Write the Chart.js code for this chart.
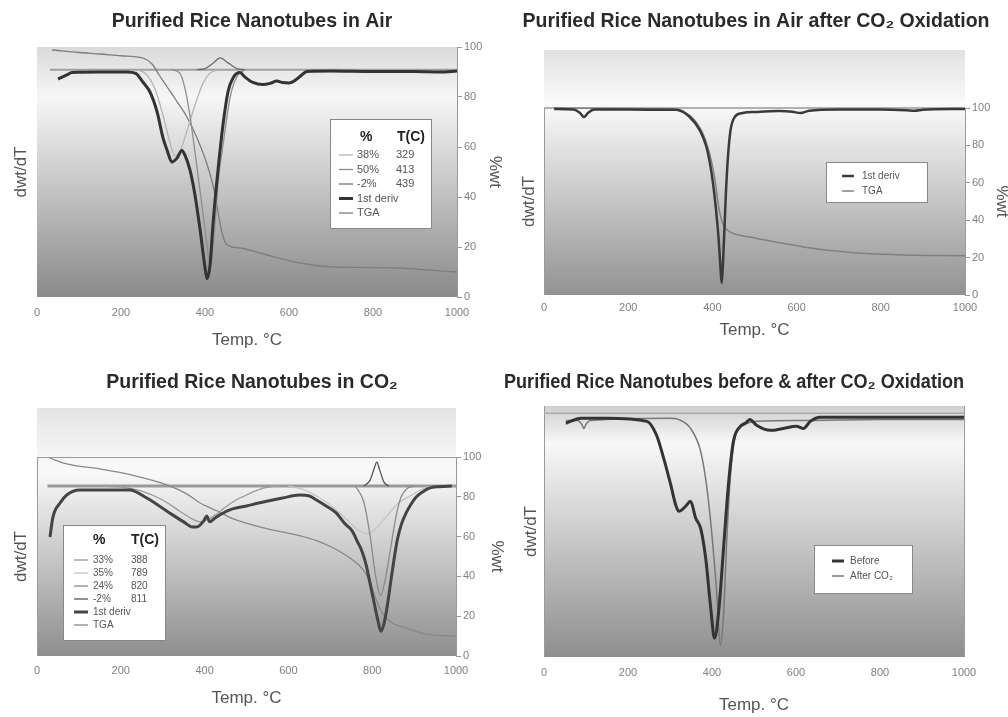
<!DOCTYPE html>
<html>
<head>
<meta charset="utf-8">
<script src="https://cdn.jsdelivr.net/npm/chart.js@4.4.0/dist/chart.umd.min.js"></script>
<style>
  body { margin: 0; background: #fff; width: 1008px; height: 717px; overflow: hidden; position: relative; }
  canvas { position: absolute; }
  #c1 { left: 0; top: 0; }
  #c2 { left: 504px; top: 0; }
  #c3 { left: 0; top: 358px; }
  #c4 { left: 504px; top: 358px; }
</style>
</head>
<body>
<canvas id="c1" width="504" height="358"></canvas>
<canvas id="c2" width="504" height="358"></canvas>
<canvas id="c3" width="504" height="359"></canvas>
<canvas id="c4" width="504" height="359"></canvas>
<script>
// ---- data (temperature in °C) ----

// panel 1: purified rice nanotubes in air
const airDerivT = [50, 71, 83, 150, 214, 235, 252, 269, 286, 300, 310, 321, 333, 345, 352, 364, 376, 388, 400, 405, 412, 419, 431, 443, 455, 467, 483, 495, 514, 538, 555, 571, 585, 600, 612, 626, 643, 700, 800, 900, 960, 1000];
const airDerivV = [-4.1, -2.3, -1.2, -1, -1, -1.6, -5.4, -9.8, -18.6, -30, -35.5, -40.6, -39, -35.5, -37.5, -44, -55, -70, -87, -92, -86, -68, -44, -24, -9.5, -3.5, -1.2, -3.2, -5.6, -6.5, -6, -5, -5.6, -5.8, -5, -3, -0.8, -0.6, -0.8, -0.8, -1, -0.6];
const airTgaT = [36, 100, 150, 200, 252, 275, 290, 310, 330, 357, 380, 405, 420, 430, 440, 452, 483, 548, 626, 705, 800, 864, 930, 1000];
const airTgaV = [98.8, 97.8, 97.2, 96.5, 95.6, 93, 89, 84, 79, 72, 64, 53, 44, 35, 26, 21, 19.6, 16.8, 13.6, 12, 11.8, 11.6, 10.8, 10];
const airFit1T = [240, 260, 280, 300, 315, 329, 340, 352, 365, 381, 395, 412, 430];
const airFit1V = [0, -2, -8, -20, -31, -38, -36, -30, -22, -13, -6, -1.5, 0];
const airFit2T = [320, 340, 352, 364, 376, 388, 400, 413, 422, 431, 443, 460, 476, 495];
const airFit2V = [0, -1.5, -8, -20, -36, -53, -70, -86, -72, -50, -33, -12, -3, 0];
const airFit3T = [380, 400, 420, 436, 455, 476, 495];
const airFit3V = [0, 0.5, 3, 5.2, 3, 0.5, 0];
const airBaseT = [31, 1000];
const airFitPct = ['38%', '50%', '-2%'];
const airFitTemp = ['329', '413', '439'];

// panel 2: in air after CO2 oxidation
const oxDerivT = [24, 70, 85, 95, 105, 120, 200, 300, 315, 346, 370, 386, 398, 408, 415, 419, 422, 424, 428, 432, 437, 443, 453, 472, 505, 559, 590, 609, 630, 700, 800, 860, 880, 900, 1000];
const oxDerivV = [-0.5, -0.8, -2.5, -4.8, -2.5, -0.8, -0.8, -1, -1, -4.8, -11.8, -21, -34.8, -53, -70.6, -85, -93.6, -88, -68, -46, -26, -12, -4.8, -2.7, -2.1, -1.6, -2, -2.7, -1.5, -0.8, -0.8, -1.2, -1.5, -1, -0.5];
const oxTgaT = [24, 100, 250, 300, 322, 353, 377, 393, 405, 415, 424, 434, 448, 488, 559, 616, 694, 775, 853, 1000];
const oxTgaV = [100, 99.8, 99.6, 99.5, 98.4, 94.7, 86.6, 76, 63, 47, 38.5, 35, 33, 31, 28, 25.7, 23.5, 22, 21.4, 21];
const oxBaseT = [0, 1000];

// panel 3: in CO2
const co2DerivT = [31, 38, 55, 71, 102, 221, 262, 317, 350, 371, 381, 398, 405, 412, 425, 460, 500, 540, 586, 626, 650, 667, 690, 714, 735, 752, 765, 776, 786, 793, 805, 813, 821, 827, 833, 839, 845, 852, 860, 870, 881, 893, 905, 920, 936, 960, 990];
const co2DerivV = [-25.6, -15.6, -8.5, -4.5, -2, -2, -6, -13.6, -18, -20.6, -20.6, -17.5, -15, -18, -16, -12, -10, -8, -6, -4.5, -5, -7, -10, -13.5, -19, -22.5, -28, -33, -40, -47, -59, -67, -73, -70, -64, -56, -47, -37, -27, -19, -13.5, -9, -5.5, -3, -1, -0.3, 0];
const co2TgaT = [30, 71, 150, 229, 310, 357, 388, 429, 467, 548, 626, 667, 705, 745, 776, 793, 810, 824, 845, 881, 912, 950, 1000];
const co2TgaV = [99.5, 96.5, 94, 90.8, 86, 81.5, 77, 73, 69, 64, 60.5, 58, 54.5, 49.5, 44, 38, 28, 21.5, 17, 14, 11.8, 10.5, 10];
const co2Fit1T = [150, 200, 250, 300, 340, 370, 388, 405, 429, 450, 475, 500, 520, 540, 571];
const co2Fit1V = [0, -0.5, -2.5, -7, -12.5, -16.5, -18, -17, -14, -10.5, -7, -4.5, -2.5, -1, 0];
const co2Fit2T = [600, 640, 667, 690, 714, 735, 752, 770, 789, 810, 833, 860, 895, 920, 943];
const co2Fit2V = [0, -2, -5, -8, -12, -16, -19.5, -22.5, -24, -21, -15.5, -9, -4.5, -1.5, 0];
const co2Fit3T = [760, 780, 795, 808, 820, 832, 845, 858, 870, 885, 900];
const co2Fit3V = [0, -8, -25, -45, -55, -46, -30, -14, -5, -1, 0];
const co2Fit4T = [780, 795, 805, 811, 818, 828, 840];
const co2Fit4V = [0, 3, 9, 12, 8, 2, 0];
const co2BaseT = [25, 1000];
const co2FitPct = ['33%', '35%', '24%', '-2%'];
const co2FitTemp = ['388', '789', '820', '811'];

// panel 4: before & after CO2 oxidation
const beforeT = [52, 88, 150, 245, 268, 285, 302, 314, 321, 337, 349, 361, 373, 385, 397, 406, 416, 428, 439, 451, 468, 480, 490, 506, 539, 570, 601, 618, 634, 658, 800, 1000];
const beforeV = [-4.1, -2, -2, -3.3, -9, -18.5, -29.5, -37.8, -40.2, -38.2, -36.1, -43, -47.2, -59.5, -80, -92.3, -81.2, -54.2, -29.5, -11.5, -5.3, -4, -2.5, -4.9, -7, -6.2, -5.3, -6.2, -3.3, -1.6, -1.6, -1.6];
const afterT = [52, 80, 90, 95, 100, 110, 300, 320, 349, 373, 387, 399, 411, 420, 428, 435, 444, 456, 475, 506, 618, 800, 1000];
const afterV = [-2.9, -2.9, -4.5, -6.2, -4.5, -2.9, -2, -2.5, -6.2, -15.6, -29.5, -48.4, -73, -95.2, -81, -52.5, -25.4, -9, -4.9, -3.3, -2.9, -2.5, -2.5];
const beforeAfterBaseT = [0, 1000];

const FONT = "'Liberation Sans', Arial, sans-serif";
Chart.defaults.font.family = FONT;

function pts(T, V) {
    return T.map((t, i) => ({ x: t, y: V ? V[i] : 0 }));
}

function line(T, V, style, axis) {
    return {
        data: pts(T, V),
        borderColor: style.color,
        borderWidth: style.width,
        pointRadius: 0,
        cubicInterpolationMode: 'monotone',
        fill: false,
        clip: 6,
        yAxisID: axis
    };
}

// gradient plot background + frame edges
const panelBg = {
    id: 'panelBg',
    beforeDraw(chart, args, o) {
        if (!o.stops) return;
        const { ctx, chartArea: a } = chart;
        const top = a.top - (o.ext || 0);
        const g = ctx.createLinearGradient(0, top, 0, a.bottom);
        o.stops.forEach(s => g.addColorStop(s[0], s[1]));
        ctx.save();
        ctx.fillStyle = g;
        ctx.fillRect(a.left, top, a.right - a.left, a.bottom - top);
        ctx.strokeStyle = '#9a9a9a';
        ctx.lineWidth = 1;
        (o.edges || []).forEach(e => {
            ctx.beginPath();
            if (e === 'left') { ctx.moveTo(a.left + 0.5, a.top); ctx.lineTo(a.left + 0.5, a.bottom); }
            if (e === 'right') { ctx.moveTo(a.right + 0.5, a.top); ctx.lineTo(a.right + 0.5, a.bottom); }
            if (e === 'top') { ctx.moveTo(a.left, a.top + 0.5); ctx.lineTo(a.right, a.top + 0.5); }
            ctx.stroke();
        });
        ctx.restore();
    }
};

// boxed legend with a % / T(C) table
const tableLegend = {
    id: 'tableLegend',
    afterDatasetsDraw(chart, args, o) {
        if (!o.rows) return;
        const ctx = chart.ctx;
        ctx.save();
        ctx.fillStyle = '#fff';
        ctx.fillRect(o.x, o.y, o.w, o.h);
        ctx.strokeStyle = '#888';
        ctx.lineWidth = 1;
        ctx.strokeRect(o.x + 0.5, o.y + 0.5, o.w, o.h);
        ctx.textBaseline = 'middle';
        if (o.header) {
            ctx.font = 'bold 14px ' + FONT;
            ctx.fillStyle = '#222';
            o.header.forEach(h => ctx.fillText(h[0], h[1], o.headerY));
        }
        ctx.font = o.size + 'px ' + FONT;
        o.rows.forEach((r, i) => {
            const y = o.rowY + i * o.gap;
            ctx.strokeStyle = r.style.color;
            ctx.lineWidth = r.style.width;
            ctx.beginPath();
            ctx.moveTo(o.lineX[0], y);
            ctx.lineTo(o.lineX[1], y);
            ctx.stroke();
            ctx.fillStyle = '#555';
            ctx.fillText(r.label, o.textX, y);
            if (r.temp) ctx.fillText(r.temp, o.tempX, y);
        });
        ctx.restore();
    }
};

Chart.register(panelBg, tableLegend);

function xAxis(h, pad, titlePad) {
    return {
        type: 'linear', min: 0, max: 1000,
        ticks: { stepSize: 200, padding: pad, color: '#808080', font: { size: 11 }, callback: v => String(v) },
        grid: { display: false, drawTicks: false },
        border: { display: false },
        title: { display: true, text: 'Temp. °C', color: '#555', font: { size: 17 }, padding: { top: 0, bottom: titlePad } },
        afterFit: s => { s.height = h; }
    };
}

function derivAxis(min, max, w, tp) {
    return {
        position: 'left', min: min, max: max,
        ticks: { display: false },
        grid: { display: false },
        border: { display: false },
        title: { display: true, text: 'dwt/dT', color: '#555', font: { size: 17 }, padding: { top: tp, bottom: 0 } },
        afterFit: s => { s.width = w; }
    };
}

function wtAxis(w, tp) {
    return {
        position: 'right', min: 0, max: 100,
        ticks: { stepSize: 20, padding: 2, color: '#808080', font: { size: 11 } },
        grid: { drawOnChartArea: false, tickLength: 5, color: '#999' },
        border: { display: false },
        title: { display: true, text: '%wt', color: '#555', font: { size: 17 }, padding: { top: tp, bottom: 0 } },
        afterFit: s => { s.width = w; }
    };
}

function titleOpts(text, top, bottom) {
    return { display: true, text: text, color: '#2a2a2a', font: { size: 19.5, weight: 'bold' }, padding: { top: top, bottom: bottom } };
}

function makeChart(id, datasets, scales, plugins, layoutPad) {
    return new Chart(document.getElementById(id), {
        type: 'line',
        data: { datasets: datasets },
        options: {
            responsive: false,
            animation: false,
            layout: { padding: layoutPad || 0 },
            scales: scales,
            plugins: Object.assign({ legend: { display: false }, tooltip: { enabled: false } }, plugins)
        }
    });
}

// ---- panel 1 ----
const s1 = {
    deriv: { color: '#333', width: 3 },
    tga: { color: '#7e7e7e', width: 1.3 },
    fit1: { color: '#b4b4b4', width: 1.3 },
    fit2: { color: '#8e8e8e', width: 1.3 },
    fit3: { color: '#6c6c6c', width: 1.3 },
    base: { color: '#a0a0a0', width: 2 }
};
makeChart('c1', [
    line(airDerivT, airDerivV, s1.deriv, 'y'),
    line(airFit3T, airFit3V, s1.fit3, 'y'),
    line(airFit2T, airFit2V, s1.fit2, 'y'),
    line(airFit1T, airFit1V, s1.fit1, 'y'),
    line(airTgaT, airTgaV, s1.tga, 'y1'),
    line(airBaseT, null, s1.base, 'y')
], {
    x: xAxis(61, 9.4, 7.8),
    y: derivAxis(-100, 10, 37, 10.8),
    y1: wtAxis(47, -1.2)
}, {
    title: titleOpts('Purified Rice Nanotubes in Air', 10.3, 13.3),
    panelBg: { stops: [[0, '#dadada'], [0.2, '#f6f6f6'], [1, '#8a8a8a']], edges: ['right'] },
    tableLegend: {
        x: 330, y: 119, w: 101, h: 109, headerY: 137,
        header: [['%', 360], ['T(C)', 397]],
        rowY: 155, gap: 14.5, lineX: [339, 353], textX: 357, tempX: 396, size: 11,
        rows: [
            { style: s1.fit1, label: airFitPct[0], temp: airFitTemp[0] },
            { style: s1.fit2, label: airFitPct[1], temp: airFitTemp[1] },
            { style: s1.fit3, label: airFitPct[2], temp: airFitTemp[2] },
            { style: s1.deriv, label: '1st deriv' },
            { style: s1.tga, label: 'TGA' }
        ]
    }
});

// ---- panel 2 ----
const s2 = {
    deriv: { color: '#3a3a3a', width: 2.5 },
    tga: { color: '#808080', width: 1.5 },
    base: { color: '#9a9a9a', width: 1.5 }
};
makeChart('c2', [
    line(oxDerivT, oxDerivV, s2.deriv, 'y'),
    line(oxTgaT, oxTgaV, s2.tga, 'y1'),
    line(oxBaseT, null, s2.base, 'y')
], {
    x: xAxis(63, 6.4, 17.8),
    y: derivAxis(-100, 0, 40, 14.8),
    y1: wtAxis(43, -4.2)
}, {
    title: titleOpts('Purified Rice Nanotubes in Air after CO₂ Oxidation', 10.3, 74.3),
    panelBg: { ext: 58, stops: [[0, '#e2e2e2'], [0.22, '#fafafa'], [1, '#929292']], edges: ['left', 'right'] },
    tableLegend: {
        x: 322, y: 162, w: 101, h: 40,
        rowY: 176, gap: 15, lineX: [338, 350], textX: 358, size: 10,
        rows: [
            { style: s2.deriv, label: '1st deriv' },
            { style: s2.tga, label: 'TGA' }
        ]
    }
});

// ---- panel 3 ----
const s3 = {
    deriv: { color: '#444', width: 3 },
    tga: { color: '#888', width: 1.3 },
    fit1: { color: '#9a9a9a', width: 1.3 },
    fit2: { color: '#c4c4c4', width: 1.3 },
    fit3: { color: '#8a8a8a', width: 1.3 },
    fit4: { color: '#555', width: 1.3 },
    base: { color: '#9a9a9a', width: 3 }
};
makeChart('c3', [
    line(co2DerivT, co2DerivV, s3.deriv, 'y'),
    line(co2Fit4T, co2Fit4V, s3.fit4, 'y'),
    line(co2Fit3T, co2Fit3V, s3.fit3, 'y'),
    line(co2Fit2T, co2Fit2V, s3.fit2, 'y'),
    line(co2Fit1T, co2Fit1V, s3.fit1, 'y'),
    line(co2TgaT, co2TgaV, s3.tga, 'y1'),
    line(co2BaseT, null, s3.base, 'y')
], {
    x: xAxis(61, 8.4, 8.8),
    y: derivAxis(-85.4, 14.6, 37, 10.8),
    y1: wtAxis(48, -3.2)
}, {
    title: titleOpts('Purified Rice Nanotubes in CO₂', 13.3, 62.3),
    panelBg: { ext: 49, stops: [[0, '#e4e4e4'], [0.25, '#fafafa'], [1, '#8e8e8e']], edges: ['left', 'right', 'top'] },
    tableLegend: {
        x: 63, y: 167, w: 102, h: 115, headerY: 182,
        header: [['%', 93], ['T(C)', 131]],
        rowY: 202, gap: 13, lineX: [74, 88], textX: 93, tempX: 131, size: 10,
        rows: [
            { style: s3.fit1, label: co2FitPct[0], temp: co2FitTemp[0] },
            { style: s3.fit2, label: co2FitPct[1], temp: co2FitTemp[1] },
            { style: s3.fit3, label: co2FitPct[2], temp: co2FitTemp[2] },
            { style: s3.fit4, label: co2FitPct[3], temp: co2FitTemp[3] },
            { style: s3.deriv, label: '1st deriv' },
            { style: s3.tga, label: 'TGA' }
        ]
    }
});

// ---- panel 4 ----
const s4 = {
    before: { color: '#333', width: 3 },
    after: { color: '#777', width: 1.5 },
    base: { color: '#aaa', width: 1.5 }
};
makeChart('c4', [
    line(beforeT, beforeV, s4.before, 'y'),
    line(afterT, afterV, s4.after, 'y'),
    line(beforeAfterBaseT, null, s4.base, 'y')
], {
    x: xAxis(60, 9.4, 1.8),
    y: derivAxis(-100, 3, 40, 16.8)
}, {
    title: titleOpts('Purified Rice Nanotubes before & after CO₂ Oxidation', 13.3, 11.3),
    panelBg: { stops: [[0, '#cfcfcf'], [0.15, '#f8f8f8'], [1, '#8e8e8e']], edges: ['left', 'right'] },
    tableLegend: {
        x: 310, y: 187, w: 98, h: 48,
        rowY: 203, gap: 15, lineX: [328, 340], textX: 346, size: 10,
        rows: [
            { style: s4.before, label: 'Before' },
            { style: s4.after, label: 'After CO₂' }
        ]
    }
}, { right: 44 });
</script>
</body>
</html>
